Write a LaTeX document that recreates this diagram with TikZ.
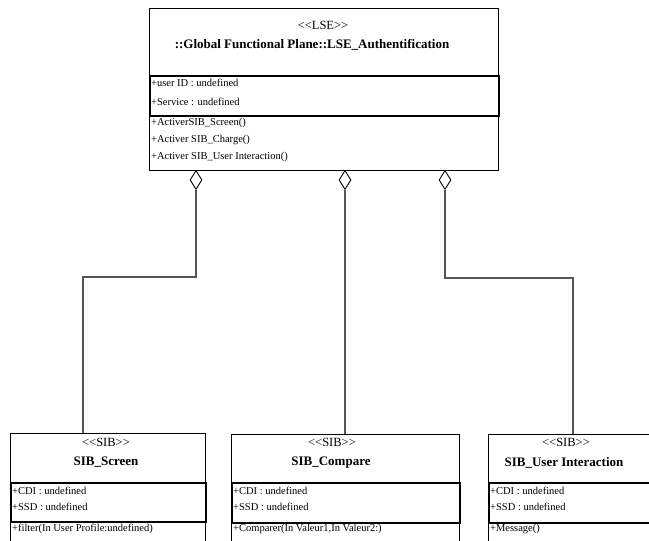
\documentclass[tikz,border=0pt]{standalone}
\usepackage{fontspec}
\setmainfont{Liberation Serif}
\usetikzlibrary{positioning, shapes.geometric}
\definecolor{clink}{HTML}{555555}
\tikzset{
  sect/.style={draw=black, line width=0.9pt, inner sep=0pt, anchor=north west},
  attrs/.style={sect, line width=1.5pt},
  stereo/.style={font=\fontsize{12.5}{14}\selectfont, inner sep=0pt},
  cname/.style={font=\fontsize{13}{15}\selectfont\bfseries, inner sep=0pt},
  member/.style={font=\fontsize{10.5}{12}\selectfont, anchor=west, inner sep=0pt},
  agg/.style={diamond, draw=black, fill=white, line width=0.9pt, inner sep=0pt, minimum width=12pt, minimum height=19pt, anchor=north},
  link/.style={draw=clink, line width=1.3pt},
}
\newcommand{\stype}[1]{{<}{<}#1{>}{>}}
\begin{document}
\begin{tikzpicture}[x=1pt, y=-1pt]
  \useasboundingbox (0,0) rectangle (649,541);
  \clip (0,0) rectangle (649,541);
  % the LSE class
  \node[sect, minimum width=349pt, minimum height=67pt] (lse) at (149,8) {};
  \node[attrs, minimum width=349pt, minimum height=40pt] (lseattr) at (149,75) {};
  \node[sect, minimum width=349pt, minimum height=55pt] (lseops) at (149,115) {};
  \node[stereo] (lsest) at (323,25) {\stype{LSE}};
  \node[cname] (lsename) at (312,45) {::Global Functional Plane::LSE\_Authentification};
  \node[member] at (151,83) {+user ID : undefined};
  \node[member] at (151,101.5) {+Service : undefined};
  \node[member] at (151,122.5) {+ActiverSIB\_Screen()};
  \node[member] at (151,140) {+Activer SIB\_Charge()};
  \node[member] at (151,157) {+Activer SIB\_User Interaction()};
  % SIB_Screen
  \node[sect, minimum width=195pt, minimum height=49pt] (screen) at (10,433) {};
  \node[attrs, minimum width=195pt, minimum height=39pt] (screenattr) at (10,482) {};
  \node[sect, minimum width=195pt, minimum height=40pt] (screenops) at (10,521) {};
  \node[stereo] at (106,442) {\stype{SIB}};
  \node[cname] at (106,462.5) {SIB\_Screen};
  \node[member] at (12,490.5) {+CDI : undefined};
  \node[member] at (12,507) {+SSD : undefined};
  \node[member] at (12,528.5) {+filter(In User Profile:undefined)};
  % SIB_Compare
  \node[sect, minimum width=228pt, minimum height=48pt] (compare) at (231,434) {};
  \node[attrs, minimum width=228pt, minimum height=40pt] (compareattr) at (231,482) {};
  \node[sect, minimum width=228pt, minimum height=40pt] (compareops) at (231,522) {};
  \node[stereo] at (332,442) {\stype{SIB}};
  \node[cname] at (331,462.5) {SIB\_Compare};
  \node[member] at (233,490.5) {+CDI : undefined};
  \node[member] at (233,507) {+SSD : undefined};
  \node[member] at (233,528.5) {+Comparer(In Valeur1,In Valeur2:)};
  % SIB_User Interaction
  \node[sect, minimum width=180pt, minimum height=48pt] (user) at (488,434) {};
  \node[attrs, minimum width=180pt, minimum height=40pt] (userattr) at (488,482) {};
  \node[sect, minimum width=180pt, minimum height=40pt] (userops) at (488,522) {};
  \node[stereo] at (566,442) {\stype{SIB}};
  \node[cname] at (564,462.5) {SIB\_User Interaction};
  \node[member] at (490,490.5) {+CDI : undefined};
  \node[member] at (490,507) {+SSD : undefined};
  \node[member] at (490,528.5) {+Message()};
  % aggregations
  \node[agg] (dscreen) at (196,170) {};
  \node[agg] (dcompare) at (345,170) {};
  \node[agg] (duser) at (445,170) {};
  \coordinate (kscreen) at (83,277);
  \coordinate (kuser) at (573,278);
  \draw[link] (dscreen.south) |- (kscreen) -- (kscreen |- screen.north);
  \draw[link] (dcompare.south) -- (dcompare.south |- compare.north);
  \draw[link] (duser.south) |- (kuser) -- (kuser |- user.north);
\end{tikzpicture}
\end{document}
